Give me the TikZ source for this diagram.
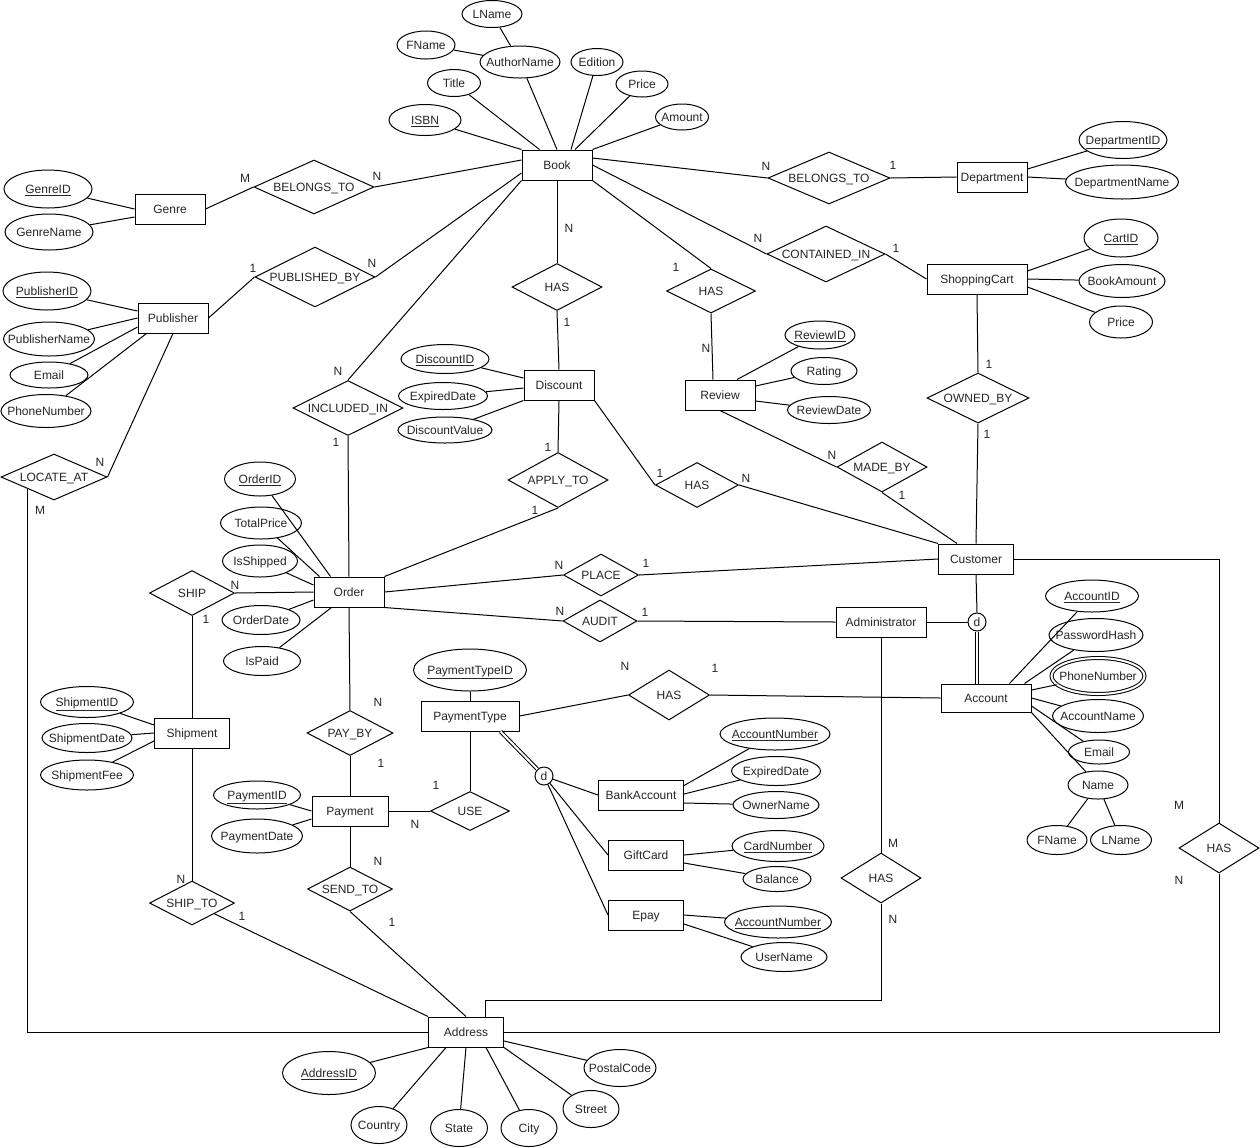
\documentclass[tikz,border=0pt]{standalone}
\usepackage{fontspec}
\setmainfont{Liberation Sans}
\usetikzlibrary{shapes.geometric,calc}
\newcommand{\tx}[1]{\makebox[0pt]{#1}}
\newcommand{\ux}[1]{\makebox[0pt]{\underline{#1}}}
\tikzset{
  base/.style={font=\fontsize{9}{11}\selectfont, text=black!85, text height=8pt, text depth=1.5pt, inner sep=0pt, line width=0.75pt},
  ent/.style args={#1/#2}{base, draw, rectangle, minimum width=#1*0.75pt, minimum height=#2*0.75pt},
  rel/.style args={#1/#2}{base, draw, diamond, aspect=2, minimum width=#1*0.75pt, minimum height=#2*0.75pt},
  att/.style args={#1/#2}{base, draw, ellipse, minimum width=#1*0.75pt, minimum height=#2*0.75pt},
  dd/.style={base, draw, circle, minimum size=18*0.75pt},
  card/.style={font=\fontsize{9}{11}\selectfont, inner sep=0pt, text=black!85},
  conn/.style={line width=0.75pt},
  dbl/.style={line width=0.75pt, double, double distance=1.5pt},
}
\begin{document}
\begin{tikzpicture}[x=0.75pt,y=-0.75pt]
\fill[white] (0,0) rectangle (1260,1147);
\useasboundingbox (0,0) rectangle (1260,1147);

% ---------- entities ----------
\node[ent=70/30] (Book) at (557,165) {Book};
\node[ent=70/30] (Genre) at (170,209) {Genre};
\node[ent=70/30] (Publisher) at (173,318) {Publisher};
\node[ent=70/30] (Department) at (992,177) {Department};
\node[ent=100/30] (ShoppingCart) at (977,279) {ShoppingCart};
\node[ent=70/30] (Discount) at (559,385) {Discount};
\node[ent=70/30] (Review) at (720,395) {Review};
\node[ent=70/30] (Order) at (349,592) {Order};
\node[ent=75/30] (Customer) at (976,559) {Customer};
\node[ent=90/30] (Admin) at (881,622) {Administrator};
\node[ent=90/28] (Account) at (986,698) {Account};
\node[ent=98/30] (PaymentType) at (470,716) {PaymentType};
\node[ent=75/30] (Shipment) at (192,733) {Shipment};
\node[ent=76/30] (Payment) at (350,811) {Payment};
\node[ent=85/30] (BankAccount) at (641,795) {BankAccount};
\node[ent=75/30] (GiftCard) at (646,855) {GiftCard};
\node[ent=75/30] (Epay) at (646,915) {Epay};
\node[ent=75/30] (Address) at (466,1032) {Address};

% ---------- relationships ----------
\node[rel=120/54] (rBG) at (314,187) {\tx{BELONGS\_TO}};
\node[rel=120/60] (rPB) at (315,277) {\tx{PUBLISHED\_BY}};
\node[rel=122/52] (rBD) at (829,178) {\tx{BELONGS\_TO}};
\node[rel=118/56] (rCI) at (826,254) {\tx{CONTAINED\_IN}};
\node[rel=90/47] (rHD) at (557,287) {\tx{HAS}};
\node[rel=89/44] (rHR) at (711,291) {\tx{HAS}};
\node[rel=110/55] (rINC) at (348,408) {\tx{INCLUDED\_IN}};
\node[rel=100/55] (rAT) at (558,480) {\tx{APPLY\_TO}};
\node[rel=83/45] (rHDC) at (697,485) {\tx{HAS}};
\node[rel=90/50] (rMB) at (882,467) {\tx{MADE\_BY}};
\node[rel=102/50] (rOB) at (978,398) {\tx{OWNED\_BY}};
\node[rel=106/46] (rLOC) at (54,477) {\tx{LOCATE\_AT}};
\node[rel=85/45] (rSHIP) at (192,593) {\tx{SHIP}};
\node[rel=75/42] (rPLACE) at (601,575) {\tx{PLACE}};
\node[rel=74/42] (rAUDIT) at (600,621) {\tx{AUDIT}};
\node[rel=81/50] (rHP) at (669,695) {\tx{HAS}};
\node[rel=86/45] (rPAY) at (350,733) {\tx{PAY\_BY}};
\node[rel=79/39] (rUSE) at (470,811) {\tx{USE}};
\node[rel=85/44] (rSHIPTO) at (192,903) {\tx{SHIP\_TO}};
\node[rel=85/44] (rSEND) at (350,889) {\tx{SEND\_TO}};
\node[rel=80/50] (rHA) at (881,878) {\tx{HAS}};
\node[rel=80/50] (rHC) at (1219,848) {\tx{HAS}};

% ---------- disjointness circles ----------
\node[dd] (d1) at (977,622) {d};
\node[dd] (d2) at (544,776) {d};

% ---------- attributes ----------
\node[att=60/27] (LName1) at (492,14) {\tx{LName}};
\node[att=58/28] (FName1) at (426,45) {\tx{FName}};
\node[att=80/32] (AuthorName) at (520,62) {\tx{AuthorName}};
\node[att=52/27] (Edition) at (597,62) {\tx{Edition}};
\node[att=53/27] (Title) at (454,83) {\tx{Title}};
\node[att=52/26] (Price1) at (642,84) {\tx{Price}};
\node[att=72/31] (ISBN) at (425,120) {\ux{ISBN}};
\node[att=53/26] (Amount) at (682,117) {\tx{Amount}};
\node[att=88/38] (GenreID) at (48,189) {\ux{GenreID}};
\node[att=88/36] (GenreName) at (49,232) {\tx{GenreName}};
\node[att=88/38] (PublisherID) at (47,291) {\ux{PublisherID}};
\node[att=91/34] (PublisherName) at (49,339) {\tx{PublisherName}};
\node[att=78/26] (Email1) at (49,375) {\tx{Email}};
\node[att=90/33] (PhoneNumber1) at (46,411) {\tx{PhoneNumber}};
\node[att=88/37] (DepartmentID) at (1123,140) {\ux{DepartmentID}};
\node[att=113/34] (DepartmentName) at (1122,182) {\tx{DepartmentName}};
\node[att=74/38] (CartID) at (1121,238) {\ux{CartID}};
\node[att=86/33] (BookAmount) at (1122,281) {\tx{BookAmount}};
\node[att=63/32] (Price2) at (1121,322) {\tx{Price}};
\node[att=70/28] (ReviewID) at (820,335) {\ux{ReviewID}};
\node[att=66/27] (Rating) at (824,371) {\tx{Rating}};
\node[att=83/27] (ReviewDate) at (829,410) {\tx{ReviewDate}};
\node[att=88/29] (DiscountID) at (445,359) {\ux{DiscountID}};
\node[att=89/27] (ExpiredDate1) at (443,396) {\tx{ExpiredDate}};
\node[att=94/26] (DiscountValue) at (445,430) {\tx{DiscountValue}};
\node[att=71/34] (OrderID) at (260,479) {\ux{OrderID}};
\node[att=81/32] (TotalPrice) at (261,523) {\tx{TotalPrice}};
\node[att=75/32] (IsShipped) at (260,561) {\tx{IsShipped}};
\node[att=78/29] (OrderDate) at (261,620) {\tx{OrderDate}};
\node[att=77/29] (IsPaid) at (262,661) {\tx{IsPaid}};
\node[att=93/31] (ShipmentID) at (87,702) {\ux{ShipmentID}};
\node[att=90/29] (ShipmentDate) at (87,738) {\tx{ShipmentDate}};
\node[att=93/30] (ShipmentFee) at (87,775) {\tx{ShipmentFee}};
\node[att=113/42] (PaymentTypeID) at (470,670) {\ux{PaymentTypeID}};
\node[att=87/28] (PaymentID) at (257,795) {\ux{PaymentID}};
\node[att=91/34] (PaymentDate) at (257,836) {\tx{PaymentDate}};
\node[att=110/32] (AccountNumber1) at (775,734) {\ux{AccountNumber}};
\node[att=89/29] (ExpiredDate2) at (776,771) {\tx{ExpiredDate}};
\node[att=86/27] (OwnerName) at (776,805) {\tx{OwnerName}};
\node[att=92/31] (CardNumber) at (778,846) {\ux{CardNumber}};
\node[att=68/25] (Balance) at (777,879) {\tx{Balance}};
\node[att=107/32] (AccountNumber2) at (778,922) {\ux{AccountNumber}};
\node[att=86/29] (UserName) at (784,957) {\tx{UserName}};
\node[att=93/32] (AccountID) at (1092,596) {\ux{AccountID}};
\node[att=94/33] (PasswordHash) at (1096,635) {\tx{PasswordHash}};
\node[att=93/36, double, double distance=1.5pt] (PhoneNumber2) at (1098,676) {\tx{PhoneNumber}};
\node[att=91/33] (AccountName) at (1098,716) {\tx{AccountName}};
\node[att=61/24] (Email2) at (1099,752) {\tx{Email}};
\node[att=60/28] (Name) at (1098,785) {\tx{Name}};
\node[att=60/29] (FName2) at (1057,840) {\tx{FName}};
\node[att=61/29] (LName2) at (1121,840) {\tx{LName}};
\node[att=93/43] (AddressID) at (329,1073) {\ux{AddressID}};
\node[att=56/37] (Country) at (379,1125) {\tx{Country}};
\node[att=57/37] (State) at (459,1128) {\tx{State}};
\node[att=56/37] (City) at (529,1128) {\tx{City}};
\node[att=56/37] (Street) at (591,1109) {\tx{Street}};
\node[att=72/37] (PostalCode) at (620,1068) {\tx{PostalCode}};

% ---------- free corner points ----------
\coordinate (admCorner) at (881,1000);
\coordinate (custCorner) at (1219,559);

% ---------- connectors ----------
\begin{scope}[conn]
% Book attributes
\draw (ISBN) -- (Book.north west);
\draw (Title) -- ($(Book.north west)+(18,0)$);
\draw (AuthorName) -- (Book.north);
\draw (Edition) -- ($(Book.north)+(14,0)$);
\draw (Price1) -- ($(Book.north)+(18,0)$);
\draw (Amount) -- (Book.north east);
\draw (AuthorName) -- (LName1);
\draw (AuthorName) -- (FName1);
% Genre
\draw (GenreID) -- (Genre.west);
\draw (GenreName) -- ($(Genre.west)+(0,8)$);
\draw (Genre.east) -- (rBG.west);
\draw (rBG.east) -- ($(Book.west)+(0,-5)$);
% Publisher
\draw (PublisherID) -- ($(Publisher.west)+(0,-7)$);
\draw (PublisherName) -- (Publisher.west);
\draw (Email1) -- ($(Publisher.west)+(0,9)$);
\draw (PhoneNumber1) -- ($(Publisher.south west)+(9,0)$);
\draw (Publisher.east) -- (rPB.west);
\draw (rPB.east) -- ($(Book.west)+(0,8)$);
\draw (Publisher.south) -- (rLOC.east);
\draw (rLOC.south west) |- (Address.west);
% Book relations
\draw (Book.south west) -- (rINC.north);
\draw ($(Book.east)+(0,-7)$) -- (rBD.west);
\draw (Book.east) -- (rCI.west);
\draw (Book.south east) -- (rHR.north);
\draw (Book.south) -- (rHD.north);
\draw (rHD.south) -- (Discount.north);
\draw (rHR.south) -- ($(Review.north)+(-7,0)$);
\draw (rBD.east) -- (Department.west);
\draw (rCI.east) -- (ShoppingCart.west);
% Department / ShoppingCart
\draw ($(Department.east)+(0,-8)$) -- (DepartmentID);
\draw (Department.east) -- (DepartmentName);
\draw ($(ShoppingCart.east)+(0,-8)$) -- (CartID);
\draw (ShoppingCart.east) -- (BookAmount);
\draw ($(ShoppingCart.east)+(0,8)$) -- (Price2);
\draw (ShoppingCart.south) -- (rOB.north);
\draw (rOB.south) -- (Customer.north);
% Review
\draw ($(Review.north)+(17,0)$) -- (ReviewID);
\draw ($(Review.east)+(0,-9)$) -- (Rating);
\draw ($(Review.east)+(0,6)$) -- (ReviewDate);
\draw (Review.south) -- (rMB.west);
\draw (rMB.south) -- ($(Customer.north west)+(19,0)$);
% Discount
\draw (DiscountID) -- ($(Discount.west)+(0,-7)$);
\draw (ExpiredDate1) -- ($(Discount.west)+(0,3)$);
\draw (DiscountValue) -- (Discount.south west);
\draw (Discount.south east) -- (rHDC.west);
\draw (rHDC.east) -- (Customer.north west);
\draw (Discount.south) -- (rAT.north);
\draw (rAT.south) -- (Order.north east);
\draw (rINC.south) -- (Order.north);
% Order
\draw (OrderID) -- ($(Order.north west)+(17,0)$);
\draw (TotalPrice) -- ($(Order.north west)+(6,0)$);
\draw (IsShipped) -- ($(Order.west)+(0,-7)$);
\draw (OrderDate) -- ($(Order.west)+(0,8)$);
\draw (IsPaid) -- ($(Order.south west)+(18,0)$);
\draw (rSHIP.east) -- (Order.west);
\draw (Order.east) -- (rPLACE.west);
\draw (rPLACE.east) -- (Customer.west);
\draw (Order.south east) -- (rAUDIT.west);
\draw (rAUDIT.east) -- (Admin.west);
\draw (Order.south) -- (rPAY.north);
\draw (rPAY.south) -- (Payment.north);
% Shipment
\draw (rSHIP.south) -- (Shipment.north);
\draw (ShipmentID) -- ($(Shipment.west)+(0,-8)$);
\draw (ShipmentDate) -- (Shipment.west);
\draw (ShipmentFee) -- ($(Shipment.west)+(0,8)$);
\draw (Shipment.south) -- (rSHIPTO.north);
\draw (rSHIPTO) -- (Address.north west);
% Customer / Administrator / Account
\draw (Admin.east) -- (d1.west);
\draw (Customer.south) -- (d1.north);
\draw[dbl] (d1.south) -- (d1.south |- Account.north);
\draw (Admin.south) -- (rHA.north);
\draw (rHA.south) -- (admCorner) -| ($(Address.north)+(19,0)$);
\draw (Customer.east) -- (custCorner) -- (rHC.north);
\draw (rHC.south) |- (Address.east);
\draw ($(Account.north west)+(69,0)$) -- (AccountID);
\draw ($(Account.north west)+(84,0)$) -- (PasswordHash);
\draw ($(Account.east)+(0,-8)$) -- (PhoneNumber2);
\draw (Account.east) -- (AccountName);
\draw ($(Account.east)+(0,8)$) -- (Email2);
\draw (Account.south east) -- (Name);
\draw (Name) -- (FName2);
\draw (Name) -- (LName2);
% Payment
\draw (PaymentID) -- (Payment.west);
\draw (PaymentDate) -- ($(Payment.west)+(0,8)$);
\draw (Payment.east) -- (rUSE.west);
\draw (rUSE.north) -- (PaymentType.south);
\draw (PaymentTypeID) -- (PaymentType.north);
\draw (PaymentType.east) -- (rHP.west);
\draw (rHP.east) -- (Account.west);
\draw (Payment.south) -- (rSEND.north);
\draw (rSEND.south) -- (Address.north);
% Payment types
\draw[dbl] ($(PaymentType.south east)+(-19,0)$) -- (d2);
\draw (d2) -- (BankAccount.west);
\draw (d2) -- (GiftCard.west);
\draw (d2) -- (Epay.west);
\draw ($(BankAccount.north east)+(0,6)$) -- (AccountNumber1);
\draw ($(BankAccount.east)+(0,-1)$) -- (ExpiredDate2);
\draw ($(BankAccount.east)+(0,8)$) -- (OwnerName);
\draw (GiftCard.east) -- (CardNumber);
\draw ($(GiftCard.east)+(0,8)$) -- (Balance);
\draw (Epay.east) -- (AccountNumber2);
\draw ($(Epay.east)+(0,9)$) -- (UserName);
% Address attributes
\draw (AddressID) -- (Address.south west);
\draw (Country) -- ($(Address.south west)+(18,0)$);
\draw (State) -- (Address.south);
\draw (City) -- ($(Address.south)+(20,0)$);
\draw (Street) -- (Address.south east);
\draw (PostalCode) -- ($(Address.east)+(0,9)$);
\end{scope}

% ---------- cardinalities ----------
\node[card] (k1) at (245,178) {M};
\node[card] (k2) at (377,176) {N};
\node[card] (k3) at (253,268) {1};
\node[card] (k4) at (372,263) {N};
\node[card] (k5) at (766,166) {N};
\node[card] (k6) at (893,165) {1};
\node[card] (k7) at (758,238) {N};
\node[card] (k8) at (896,248) {1};
\node[card] (k9) at (569,228) {N};
\node[card] (k10) at (567,322) {1};
\node[card] (k11) at (676,267) {1};
\node[card] (k12) at (706,348) {N};
\node[card] (k13) at (338,371) {N};
\node[card] (k14) at (336,442) {1};
\node[card] (k15) at (548,447) {1};
\node[card] (k16) at (535,510) {1};
\node[card] (k17) at (660,473) {1};
\node[card] (k18) at (746,478) {N};
\node[card] (k19) at (832,455) {N};
\node[card] (k20) at (902,495) {1};
\node[card] (k21) at (989,364) {1};
\node[card] (k22) at (987,434) {1};
\node[card] (k23) at (100,462) {N};
\node[card] (k24) at (40,510) {M};
\node[card] (k25) at (235,585) {N};
\node[card] (k26) at (206,619) {1};
\node[card] (k27) at (559,565) {N};
\node[card] (k28) at (646,563) {1};
\node[card] (k29) at (560,611) {N};
\node[card] (k30) at (645,612) {1};
\node[card] (k31) at (625,666) {N};
\node[card] (k32) at (715,668) {1};
\node[card] (k33) at (378,702) {N};
\node[card] (k34) at (381,763) {1};
\node[card] (k35) at (436,785) {1};
\node[card] (k36) at (415,824) {N};
\node[card] (k37) at (181,879) {N};
\node[card] (k38) at (242,916) {1};
\node[card] (k39) at (378,861) {N};
\node[card] (k40) at (392,922) {1};
\node[card] (k41) at (893,843) {M};
\node[card] (k42) at (893,919) {N};
\node[card] (k43) at (1179,805) {M};
\node[card] (k44) at (1179,880) {N};
\end{tikzpicture}
\end{document}
